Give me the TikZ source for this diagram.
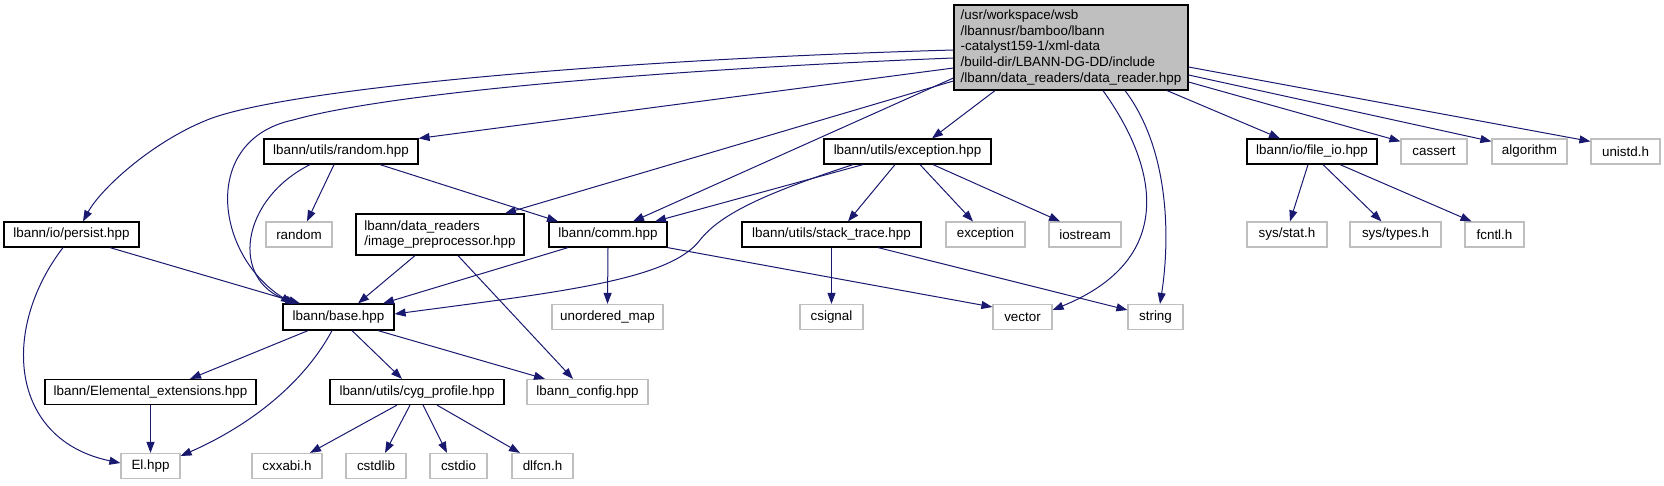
\documentclass[tikz,border=0pt]{standalone}
\usepackage{fontspec}
\setmainfont{Liberation Sans}
\usetikzlibrary{arrows.meta}
\definecolor{edgeblue}{HTML}{191970}
\definecolor{boxgray}{HTML}{BFBFBF}

\begin{document}
\begin{tikzpicture}[
  x=1pt,y=-1pt,
  font=\fontsize{13.4}{15.8}\selectfont,
  header/.style={draw=black,line width=1.2pt,fill=white,minimum height=25pt,inner sep=0pt},
  sysheader/.style={draw=boxgray,line width=1.2pt,fill=white,minimum height=25pt,inner sep=0pt},
  incl/.style={edgeblue,line width=1pt,-{Triangle[length=11pt,width=8pt]}}
]
  \useasboundingbox (0,0) rectangle (1664,485);

  \node[header,fill=boxgray,minimum width=234pt,minimum height=85pt,align=left] (reader) at (1071,47.5)
    {/usr/workspace/wsb\\/lbannusr/bamboo/lbann\\-catalyst159-1/xml-data\\/build-dir/LBANN-DG-DD/include\\/lbann/data\_readers/data\_reader.hpp};

  \node[header,minimum width=154pt] (rndhdr) at (341,151.5) {lbann/utils/random.hpp};
  \node[header,minimum width=167pt] (exchdr) at (907.5,151.5) {lbann/utils/exception.hpp};
  \node[header,minimum width=130pt] (fileio) at (1312,151.5) {lbann/io/file\_io.hpp};
  \node[sysheader,minimum width=66pt] (cassert) at (1434,151.5) {cassert};
  \node[sysheader,minimum width=75pt] (algorithm) at (1529.5,151.5) {algorithm};
  \node[sysheader,minimum width=69pt] (unistd) at (1625.5,151.5) {unistd.h};

  \node[header,minimum width=135pt] (persist) at (71.5,234.5) {lbann/io/persist.hpp};
  \node[sysheader,minimum width=66pt] (rndsys) at (299,234.5) {random};
  \node[header,minimum width=168pt,minimum height=41pt,align=left] (imgpre) at (440,234.5)
    {lbann/data\_readers\\/image\_preprocessor.hpp};
  \node[header,minimum width=118pt] (comm) at (608,234.5) {lbann/comm.hpp};
  \node[header,minimum width=179pt] (stacktrace) at (831.5,234.5) {lbann/utils/stack\_trace.hpp};
  \node[sysheader,minimum width=79pt] (excsys) at (985.5,234.5) {exception};
  \node[sysheader,minimum width=72pt] (iostream) at (1085,234.5) {iostream};
  \node[sysheader,minimum width=80pt] (sysstat) at (1287,234.5) {sys/stat.h};
  \node[sysheader,minimum width=91pt] (systypes) at (1395.5,234.5) {sys/types.h};
  \node[sysheader,minimum width=59pt] (fcntl) at (1494.5,234.5) {fcntl.h};

  \node[header,minimum width=111pt,minimum height=26pt] (base) at (338.5,317) {lbann/base.hpp};
  \node[sysheader,minimum width=111pt] (umap) at (607.5,317) {unordered\_map};
  \node[sysheader,minimum width=63pt] (csignal) at (831.5,317) {csignal};
  \node[sysheader,minimum width=59pt] (vector) at (1022.5,317) {vector};
  \node[sysheader,minimum width=55pt] (string) at (1155.5,317) {string};

  \node[header,minimum width=211pt] (elemext) at (150.5,392) {lbann/Elemental\_extensions.hpp};
  \node[header,minimum width=174pt] (cygprof) at (417,392) {lbann/utils/cyg\_profile.hpp};
  \node[sysheader,minimum width=121pt] (lbconfig) at (587.5,392) {lbann\_config.hpp};

  \node[sysheader,minimum width=59pt] (elhpp) at (150.5,466) {El.hpp};
  \node[sysheader,minimum width=70pt] (cxxabi) at (287,466) {cxxabi.h};
  \node[sysheader,minimum width=60pt] (cstdlib) at (376,466) {cstdlib};
  \node[sysheader,minimum width=57pt] (cstdio) at (458.5,466) {cstdio};
  \node[sysheader,minimum width=61pt] (dlfcn) at (542.5,466) {dlfcn.h};

  \draw[incl] ([yshift=-2.5pt]reader.west) .. controls (600,60) and (280,90) .. (207,120)
    .. controls (150,143) and (100,190) .. ([xshift=11.5pt]persist.north);
  \draw[incl] ([yshift=-10.5pt]reader.west) .. controls (700,68) and (400,90) .. (293,120)
    .. controls (200,140) and (215,255) .. ([xshift=-46.5pt]base.north);
  \draw[incl] ([yshift=-20.5pt]reader.west) -- (rndhdr.north east);
  \draw[incl] ([yshift=-33.5pt]reader.west) -- ([xshift=65pt]imgpre.north);
  \draw[incl] ([yshift=-30.5pt]reader.west) -- ([xshift=25pt]comm.north);
  \draw[incl] ([xshift=-76pt]reader.south) -- ([xshift=24.5pt]exchdr.north);
  \draw[incl] ([xshift=32pt]reader.south) .. controls (1160,170) and (1175,260) .. ([yshift=7pt]vector.east);
  \draw[incl] ([xshift=54pt]reader.south) .. controls (1170,150) and (1170,240) .. ([xshift=4.5pt]string.north);
  \draw[incl] ([xshift=96pt]reader.south) -- ([xshift=-32pt]fileio.north);
  \draw[incl] ([yshift=-34.5pt]reader.east) -- ([yshift=-3pt]cassert.north west);
  \draw[incl] ([yshift=-27.5pt]reader.east) -- ([yshift=-3pt]algorithm.north west);
  \draw[incl] ([yshift=-19.5pt]reader.east) -- ([yshift=-3pt]unistd.north west);

  \draw[incl] ([xshift=-31pt]rndhdr.south) .. controls (240,200) and (230,280) .. ([xshift=-42pt]base.north);
  \draw[incl] ([xshift=-7pt]rndhdr.south) -- ([xshift=8pt]rndsys.north);
  \draw[incl] ([xshift=39pt]rndhdr.south) -- ([xshift=-50pt]comm.north);

  \draw[incl] ([xshift=-25pt]imgpre.south) -- ([xshift=19.5pt]base.north);
  \draw[incl] ([xshift=18pt]imgpre.south) -- ([xshift=-14.5pt]lbconfig.north);

  \draw[incl] ([xshift=-40pt]comm.south) -- ([xshift=44.5pt]base.north);
  \draw[incl] (comm.south) -- (umap.north);
  \draw[incl] (comm.south east) -- ([yshift=10pt]vector.west);

  \draw[incl] ([xshift=-44.5pt]exchdr.south) -- ([xshift=47pt]comm.north);
  \draw[incl] ([xshift=-54.5pt]exchdr.south) .. controls (760,195) and (720,215) .. (700,240)
    .. controls (670,280) and (560,292) .. ([yshift=3pt]base.east);
  \draw[incl] ([xshift=-12.5pt]exchdr.south) -- ([xshift=16.5pt]stacktrace.north);
  \draw[incl] ([xshift=12.5pt]exchdr.south) -- ([xshift=-12.5pt]excsys.north);
  \draw[incl] ([xshift=25.5pt]exchdr.south) -- ([xshift=-25pt]iostream.north);

  \draw[incl] (stacktrace.south) -- (csignal.north);
  \draw[incl] ([xshift=46.5pt]stacktrace.south) -- ([yshift=7pt]string.west);

  \draw[incl] ([xshift=-4pt]fileio.south) -- ([xshift=3pt]sysstat.north);
  \draw[incl] ([xshift=11pt]fileio.south) -- ([xshift=-14pt]systypes.north);
  \draw[incl] ([xshift=28pt]fileio.south) -- ([xshift=-23pt]fcntl.north);

  \draw[incl] ([xshift=38.5pt]persist.south) -- ([xshift=-38.5pt]base.north);
  \draw[incl] ([xshift=-8.5pt]persist.south) .. controls (0,330) and (10,440) .. ([yshift=3pt]elhpp.west);

  \draw[incl] ([xshift=-30.5pt]base.south) -- ([xshift=39.5pt]elemext.north);
  \draw[incl] ([xshift=-6.5pt]base.south) .. controls (300,390) and (240,430) .. ([yshift=10pt]elhpp.east);
  \draw[incl] ([xshift=13.5pt]base.south) -- ([xshift=-15pt]cygprof.north);
  \draw[incl] ([xshift=39.5pt]base.south) -- ([xshift=-42.5pt]lbconfig.north);

  \draw[incl] (elemext.south) -- (elhpp.north);

  \draw[incl] ([xshift=-20pt]cygprof.south) -- ([xshift=23pt]cxxabi.north);
  \draw[incl] ([xshift=-7pt]cygprof.south) -- ([xshift=9pt]cstdlib.north);
  \draw[incl] ([xshift=6pt]cygprof.south) -- ([xshift=-11.5pt]cstdio.north);
  \draw[incl] ([xshift=20pt]cygprof.south) -- ([xshift=-22.5pt]dlfcn.north);
\end{tikzpicture}
\end{document}
